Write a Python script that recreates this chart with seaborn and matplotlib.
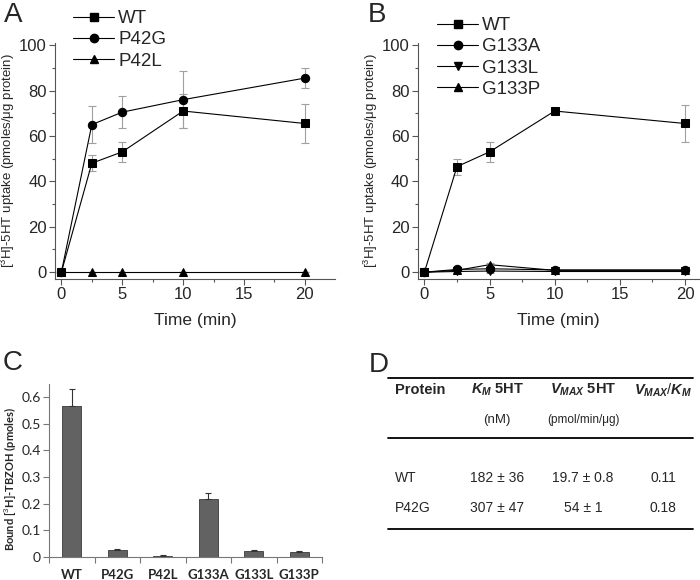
import numpy as np
import pandas as pd
import matplotlib
matplotlib.use("Agg")
import matplotlib.pyplot as plt
import seaborn as sns
from matplotlib.lines import Line2D

# panel A / B: uptake time course
time = [0, 2.5, 5, 10, 20]
wt_a = [0, 48, 53, 71, 65.5]
wt_a_err = [0, 3.5, 4.5, 7.5, 8.5]
p42g = [0, 65, 70.5, 76, 85.5]
p42g_err = [0, 8, 7, 12.5, 4.5]
p42l = [0, 0, 0, 0, 0]
p42l_err = [0, 0, 0, 0, 0]

wt_b = [0, 46.5, 53, 71, 65.5]
wt_b_err = [0, 3.5, 4.5, 0.5, 8.3]
g133a = [0, 1.2, 1.5, 1.0, 1.0]
g133l = [0, 0.3, 0.5, 0.3, 0.3]
g133p = [0, 0.8, 3.3, 0.8, 0.8]
g133_err = [0, 0.5, 0.8, 0.4, 0.4]

# panel C: TBZOH binding
proteins = ["WT", "P42G", "P42L", "G133A", "G133L", "G133P"]
bound = [0.567, 0.025, 0.004, 0.218, 0.022, 0.017]
bound_err = [0.063, 0.003, 0.003, 0.022, 0.003, 0.005]

# panel D: kinetic table
tbl_protein = ["WT", "P42G"]
tbl_km = ["182 ± 36", "307 ± 47"]
tbl_vmax = ["19.7 ± 0.8", "54 ± 1"]
tbl_ratio = ["0.11", "0.18"]

sns.set_style("ticks")
plt.rcParams["font.family"] = ["Liberation Sans", "DejaVu Sans"]
plt.rcParams["mathtext.fontset"] = "custom"
plt.rcParams["mathtext.rm"] = "Liberation Sans"
plt.rcParams["mathtext.it"] = "Liberation Sans:italic:bold"
plt.rcParams["mathtext.bf"] = "Liberation Sans:bold"

fig = plt.figure(figsize=(7, 5.8), dpi=100)
axA = fig.add_axes([0.079, 0.519, 0.40, 0.407])
axB = fig.add_axes([0.597, 0.519, 0.402, 0.407])
axC = fig.add_axes([0.07, 0.04, 0.39, 0.298])
axD = fig.add_axes([0, 0, 1, 1], zorder=-1)
axD.set_xlim(0, 700)
axD.set_ylim(580, 0)
axD.axis("off")


def uptake_panel(ax, series, xmax, legend_anchor, label_x):
    handles = []
    for name, y, err, mk in series:
        ax.errorbar(time, y, yerr=err, fmt="none", ecolor="#a0a0a0",
                    elinewidth=0.8, capsize=3, capthick=0.8, zorder=1)
        sns.lineplot(x=time, y=y, ax=ax, color="black", lw=0.8, marker=mk,
                     markersize=6, markeredgecolor="black", zorder=3)
        handles.append(Line2D([], [], color="black", lw=0.8, marker=mk,
                              markersize=6, label=name))
    ax.set_xlim(-0.5, xmax)
    ax.set_ylim(-3, 101)
    ax.set_xticks([0, 5, 10, 15, 20])
    ax.set_xticks([2.5, 7.5, 12.5, 17.5], minor=True)
    ax.set_yticks([0, 20, 40, 60, 80, 100])
    ax.set_yticks([10, 30, 50, 70, 90], minor=True)
    ax.tick_params(labelsize=12, length=4, width=0.8, color="#555555", pad=2)
    ax.tick_params(which="minor", length=2.5, width=0.8, color="#555555")
    for s in ["left", "bottom"]:
        ax.spines[s].set_linewidth(0.8)
        ax.spines[s].set_color("#555555")
    sns.despine(ax=ax)
    ax.set_xlabel("Time (min)", fontsize=12.5, labelpad=8)
    ax.set_ylabel("[$^3$H]-5HT uptake (pmoles/μg protein)", fontsize=9.5)
    ax.yaxis.set_label_coords(label_x, 0.5)
    fig.legend(handles=handles, loc="upper left", bbox_to_anchor=legend_anchor,
               frameon=False, fontsize=13.5, handlelength=2.2, handletextpad=0.2,
               labelspacing=0.22, borderpad=0, borderaxespad=0)


uptake_panel(axA, [("WT", wt_a, wt_a_err, "s"),
                   ("P42G", p42g, p42g_err, "o"),
                   ("P42L", p42l, p42l_err, "^")], 22.5,
             (73 / 700, 1 - 10 / 580), -0.135)
uptake_panel(axB, [("WT", wt_b, wt_b_err, "s"),
                   ("G133A", g133a, g133_err, "o"),
                   ("G133L", g133l, g133_err, "v"),
                   ("G133P", g133p, g133_err, "^")], 21.1,
             (437 / 700, 1 - 17 / 580), -0.135)

# panel C bars
dfc = pd.DataFrame({"protein": proteins, "bound": bound})
sns.barplot(data=dfc, x="protein", y="bound", ax=axC, color="#626262",
            saturation=1, width=0.42, edgecolor="#3a3a3a", linewidth=0.6)
axC.errorbar(np.arange(len(proteins)), bound, yerr=[np.zeros(len(bound)), bound_err],
             fmt="none", ecolor="#333333", elinewidth=0.8, capsize=2.5, capthick=0.8)
axC.set_xlim(-0.5, 5.5)
axC.set_ylim(0, 0.65)
axC.set_yticks([0, 0.1, 0.2, 0.3, 0.4, 0.5, 0.6])
axC.set_yticklabels(["0", "0.1", "0.2", "0.3", "0.4", "0.5", "0.6"])
axC.set_xticks(np.arange(-0.5, 6, 1), minor=True)
axC.tick_params(axis="x", which="major", length=0, labelsize=9.5, pad=9)
axC.tick_params(axis="x", which="minor", length=4, width=0.8, color="#777777")
axC.tick_params(axis="y", length=4, width=0.8, color="#777777", labelsize=10, pad=2)
for lab in axC.get_xticklabels():
    lab.set_fontweight("bold")
    lab.set_family("Lato")
for lab in axC.get_yticklabels():
    lab.set_family("Lato")
for s in ["left", "bottom"]:
    axC.spines[s].set_linewidth(0.8)
    axC.spines[s].set_color("#777777")
sns.despine(ax=axC)
axC.set_xlabel("")
axC.set_ylabel("Bound [$^3$H]-TBZOH (pmoles)", fontsize=8, fontweight="bold",
               family="Lato")
axC.yaxis.set_label_coords(-0.115, 0.45)

# panel letters
for txt, x, y in [("A", 4, 2), ("B", 368, 2), ("C", 3, 350), ("D", 369, 352)]:
    axD.text(x, y, txt, fontsize=20, va="top", ha="left")

# panel D table
axD.plot([388, 693], [378, 378], color="black", lw=1.3)
axD.plot([388, 693], [438, 438], color="black", lw=1.3)
axD.plot([388, 693], [529, 529], color="black", lw=1.3)
axD.text(395, 390, "Protein", fontsize=10.5, fontweight="bold", va="center")
axD.text(497, 390, r"$K_M$ 5HT", fontsize=10.5, fontweight="bold", va="center", ha="center")
axD.text(583, 390, r"$V_{MAX}$ 5HT", fontsize=10.5, fontweight="bold", va="center", ha="center")
axD.text(663, 390, r"$V_{MAX}/K_M$", fontsize=10.5, fontweight="bold", va="center", ha="center")
axD.text(497, 420, "(nM)", fontsize=9.5, va="center", ha="center")
axD.text(583, 420, "(pmol/min/μg)", fontsize=8.5, va="center", ha="center")
for i, yy in enumerate([478, 508]):
    axD.text(395, yy, tbl_protein[i], fontsize=10, va="center")
    axD.text(497, yy, tbl_km[i], fontsize=10, va="center", ha="center")
    axD.text(583, yy, tbl_vmax[i], fontsize=10, va="center", ha="center")
    axD.text(663, yy, tbl_ratio[i], fontsize=10, va="center", ha="center")

fig.savefig("out.png", dpi=100)
